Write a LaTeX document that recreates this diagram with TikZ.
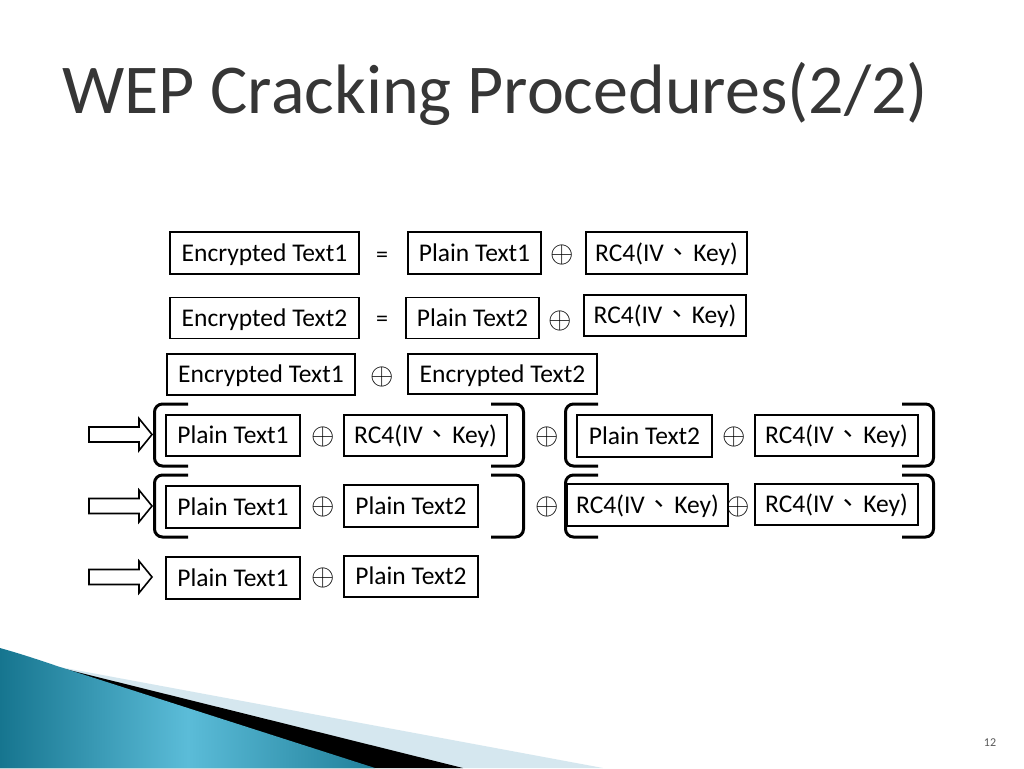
\documentclass[tikz,border=0pt]{standalone}
\usepackage{fontspec}
\setmainfont{Carlito}
\newfontfamily\cjk{Noto Sans CJK TC}
\usetikzlibrary{calc}
\definecolor{titlegray}{HTML}{363636}
\definecolor{tealA}{HTML}{16758F}
\definecolor{tealB}{HTML}{5BBCD8}
\definecolor{paleblue}{HTML}{D5E7EF}
\definecolor{numgray}{HTML}{595959}
\tikzset{
  box/.style={draw, line width=1.3pt, inner sep=0pt, text height=20pt, text depth=4pt, font=\fontsize{25.5}{28}\selectfont},
  op/.style={inner sep=0pt, font=\fontsize{20}{24}\selectfont},
  eqsign/.style={inner sep=0pt, anchor=base, font=\fontsize{24}{26}\selectfont},
  brk/.style={line width=3pt, rounded corners=8pt},
  blockarrow/.style={draw, line width=1.6pt, fill=white, line join=miter},
}
\newcommand{\rck}{RC4(IV\makebox[1.15em][c]{\cjk 、}Key)}
\newcommand{\xo}{\scalebox{1.45}{$\oplus$}}
\begin{document}
\begin{tikzpicture}[x=1pt,y=-1pt]
\fill[white] (0,0) rectangle (1024,768);
\useasboundingbox (0,0) rectangle (1024,768);
% bottom-left decoration
\fill[paleblue] (54,666) -- (603,768) -- (0,768) -- cycle;
\fill[black] (57,667) -- (463,768) -- (0,768) -- cycle;
\shade[left color=tealA, right color=tealA!85!tealB, middle color=tealB] (0,648) .. controls (25,655) and (45,662) .. (60,667) -- (375,768) -- (0,768) -- cycle;
% title
\node[anchor=base west, inner sep=0pt, text=titlegray, font=\fontsize{70}{80}\selectfont] (title) at (62,113) {WEP Cracking Procedures(2/2)};
% row 1
\node[box, minimum width=189pt, minimum height=42pt] (e1) at (264.5,253) {Encrypted Text1};
\node[eqsign] (eq1) at (382,262) {=};
\node[box, minimum width=133pt, minimum height=42pt] (p1) at (474.5,253) {Plain Text1};
\node[op] (x1) at (562,255) {\xo};
\node[box, minimum width=161pt, minimum height=42pt] (r1) at (666.5,253) {\rck};
% row 2
\node[box, minimum width=189pt, minimum height=41pt] (e2) at (264.5,318) {Encrypted Text2};
\node[eqsign] (eq2) at (382,326) {=};
\node[box, minimum width=133pt, minimum height=41pt] (p2) at (472.5,318) {Plain Text2};
\node[op] (x2) at (560,321) {\xo};
\node[box, minimum width=162pt, minimum height=41pt] (r2) at (665,315.5) {\rck};
% row 3
\node[box, minimum width=188pt, minimum height=41pt] (e3) at (261,374.5) {Encrypted Text1};
\node[op] (x3) at (382,377) {\xo};
\node[box, minimum width=189pt, minimum height=40pt] (e4) at (502.5,374) {Encrypted Text2};
% row 4
\node[box, minimum width=134pt, minimum height=41pt] (a1) at (233,435.5) {Plain Text1};
\node[op] (x4a) at (323,437) {\xo};
\node[box, minimum width=163pt, minimum height=41pt] (b1) at (425.5,435.5) {\rck};
\node[op] (x4b) at (547,437) {\xo};
\node[box, minimum width=135pt, minimum height=42pt] (c1) at (644.5,436) {Plain Text2};
\node[op] (x4c) at (734,437) {\xo};
\node[box, minimum width=163pt, minimum height=41pt] (d1) at (836.5,435.5) {\rck};
% row 5
\node[box, minimum width=134pt, minimum height=42pt] (a2) at (233,507) {Plain Text1};
\node[op] (x5a) at (323,507) {\xo};
\node[box, minimum width=134pt, minimum height=42pt] (b2) at (411,506) {Plain Text2};
\node[op] (x5b) at (547,507) {\xo};
\node[box, minimum width=161pt, minimum height=42pt] (c2) at (647.5,505) {\rck};
\node[op] (x5c) at (738,507) {\xo};
\node[box, minimum width=163pt, minimum height=41pt] (d2) at (836.5,504.5) {\rck};
% row 6
\node[box, minimum width=134pt, minimum height=42pt] (a3) at (233,578) {Plain Text1};
\node[op] (x6) at (323,578) {\xo};
\node[box, minimum width=134pt, minimum height=41pt] (b3) at (411,576.5) {Plain Text2};
% brackets
\foreach \yt/\yb in {404/466, 475/537}{
  \draw[brk] (188,\yt) -- (154.5,\yt) -- (154.5,\yb) -- (188,\yb);
  \draw[brk] (491,\yt) -- (523.5,\yt) -- (523.5,\yb) -- (491,\yb);
  \draw[brk] (598,\yt) -- (565.5,\yt) -- (565.5,\yb) -- (598,\yb);
  \draw[brk] (902,\yt) -- (933.5,\yt) -- (933.5,\yb) -- (902,\yb);
}
% block arrows
\foreach \ty in {434.5, 506, 577}{
  \draw[blockarrow] (89,\ty-7.5) -- (139,\ty-7.5) -- (139,\ty-16) -- (152,\ty) -- (139,\ty+16) -- (139,\ty+7.5) -- (89,\ty+7.5) -- cycle;
}
% page number
\node[text=numgray, font=\fontsize{12}{14}\selectfont] (pg) at (990,743) {12};
\end{tikzpicture}
\end{document}
